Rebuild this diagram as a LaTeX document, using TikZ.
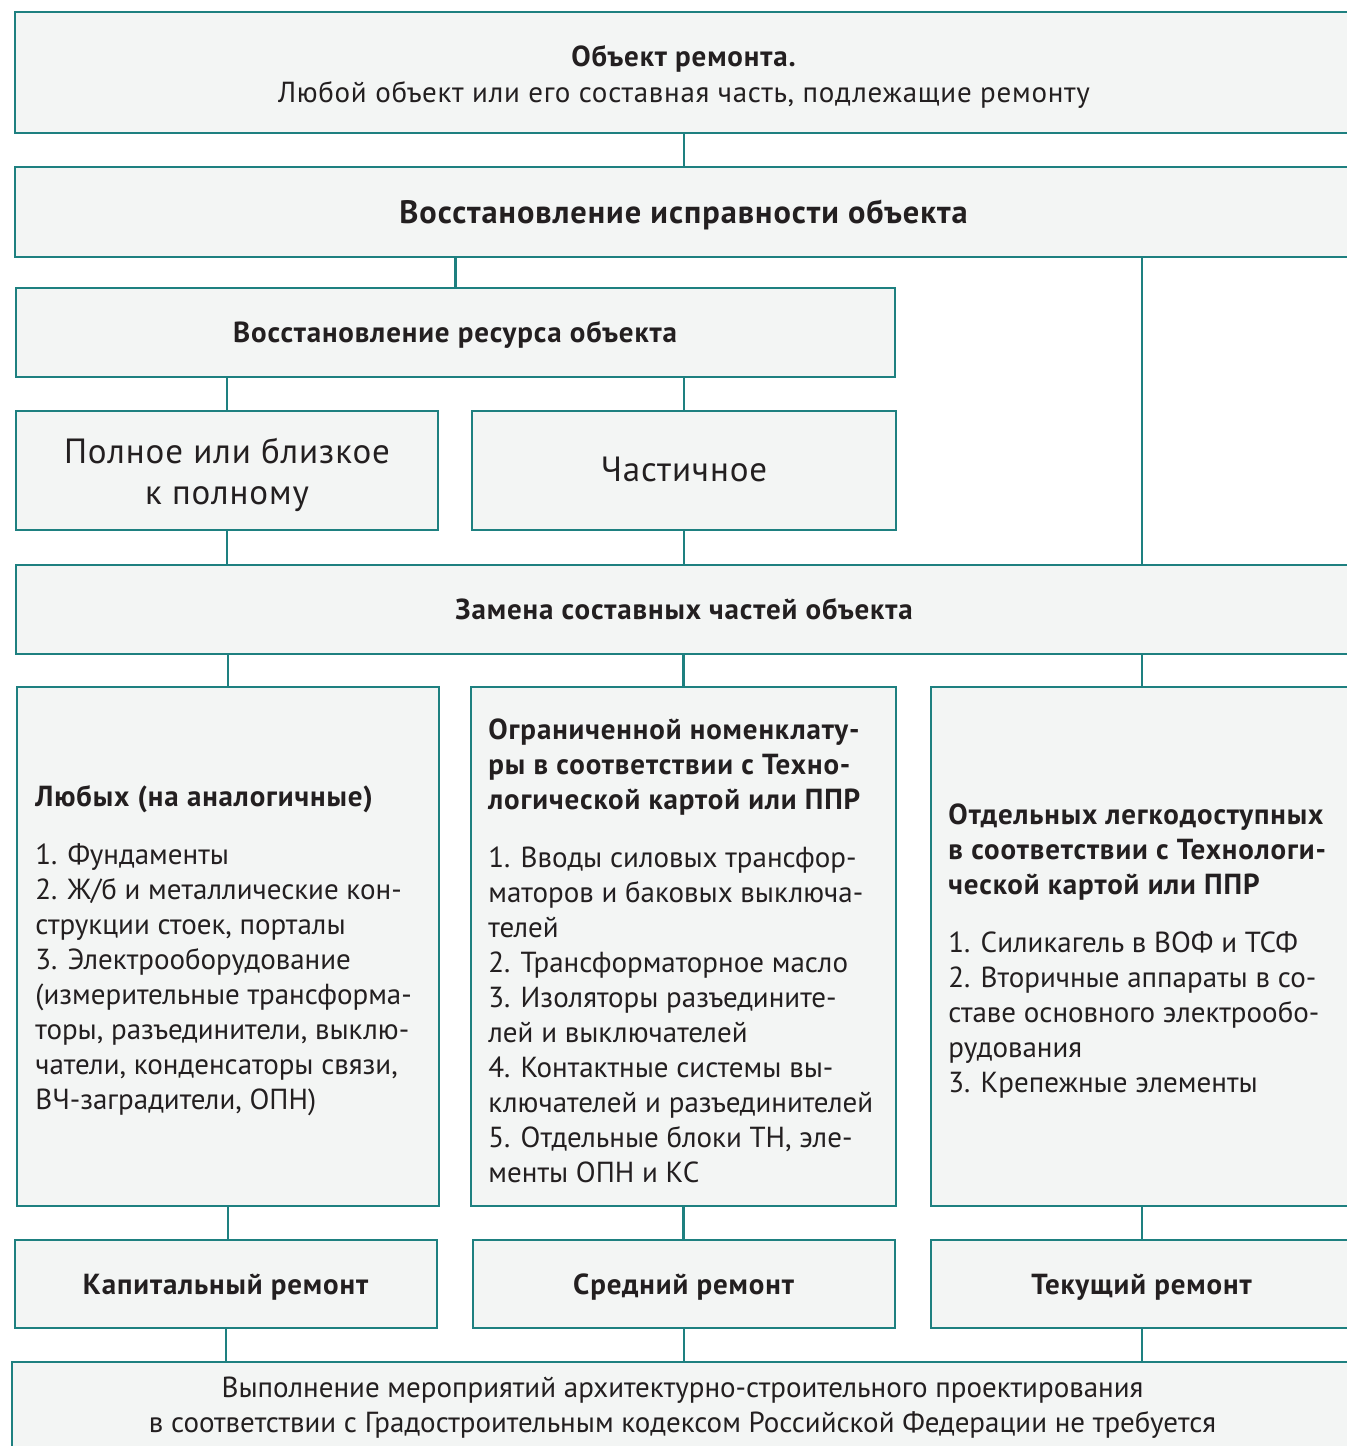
\documentclass[tikz,border=0pt]{standalone}
\usepackage{fontspec}
\setmainfont{PT Sans}[BoldFeatures={LetterSpace=3}]
\newfontfamily\spacedfont{PT Sans}[LetterSpace=2.5]
\definecolor{teal1}{HTML}{1E8080}
\definecolor{boxfill}{HTML}{F3F5F4}
\definecolor{ink}{HTML}{231F20}
\tikzset{
 box/.style={draw=teal1, fill=boxfill, line width=1.25pt, rectangle, inner sep=0pt, align=center, text=ink, font=\fontsize{14.5}{17.5}\selectfont},
 oneline/.style={text height=12.4pt, text depth=2pt},
 bigbox/.style={box, font=\spacedfont\fontsize{17.5}{20.5}\selectfont},
 conn/.style={draw=teal1, line width=1.25pt},
 listtext/.style={anchor=west, align=left, text=ink, inner sep=0pt, font=\fontsize{14.5}{17.5}\selectfont},
}
\begin{document}
\begin{tikzpicture}[x=0.5pt,y=-0.5pt]
\useasboundingbox (0,0) rectangle (1347,1446);
\clip (0,0) rectangle (1347,1446);
\fill[white] (0,0) rectangle (1347,1446);

\node[box, minimum width=669pt, minimum height=60.5pt] (b1) at (684,72.5) {\rule{0pt}{15pt}\textbf{Объект ремонта.}\\[0.5pt]{\spacedfont Любой объект или его составная часть, подлежащие ремонту}};
\node[box, oneline, text height=13.2pt, minimum width=669pt, minimum height=45pt, font=\fontsize{16.2}{19}\selectfont] (b2) at (684,212) {\textbf{Восстановление исправности объекта}};
\node[box, oneline, minimum width=439.5pt, minimum height=44.5pt] (b3) at (455.5,332.5) {\textbf{Восстановление ресурса объекта}};
\node[bigbox, minimum width=211pt, minimum height=59.5pt] (b4) at (227,470.5) {\rule{0pt}{17pt}Полное или близкое\\к полному};
\node[bigbox, text height=13.8pt, text depth=3pt, minimum width=212pt, minimum height=59.5pt] (b5) at (684,470.5) {Частичное};
\node[box, oneline, minimum width=668.5pt, minimum height=44.5pt] (b6) at (684.5,609.5) {\textbf{Замена составных частей объекта}};
\node[box, minimum width=211pt, minimum height=259.5pt] (b7) at (228,946.5) {};
\node[box, minimum width=212.5pt, minimum height=259.5pt] (b8) at (683.5,946.5) {};
\node[box, minimum width=211pt, minimum height=259.5pt] (b9) at (1142,946.5) {};
\node[box, oneline, minimum width=211pt, minimum height=44pt] (b10) at (226,1284) {\textbf{Капитальный ремонт}};
\node[box, oneline, minimum width=211pt, minimum height=44pt] (b11) at (684,1284) {\textbf{Средний ремонт}};
\node[box, oneline, minimum width=211pt, minimum height=44pt] (b12) at (1142,1284) {\textbf{Текущий ремонт}};
\node[box, minimum width=670.5pt, minimum height=46pt] (b13) at (682.5,1408) {Выполнение мероприятий архитектурно-строительного проектирования\\в соответствии с Градостроительным кодексом Российской Федерации не требуется};

\node[listtext] (t7) at (35,950.5) {\textbf{Любых (на аналогичные)}\\[11.5pt]
1. Фундаменты\\
2. Ж/б и металлические кон-\\
струкции стоек, порталы\\
3. Электрооборудование\\
(измерительные трансформа-\\
торы, разъединители, выклю-\\
чатели, конденсаторы связи,\\
ВЧ-заградители, ОПН)};
\node[listtext] (t8) at (488,950.5) {\textbf{Ограниченной номенклату-}\\
\textbf{ры в соответствии с Техно-}\\
\textbf{логической картой или ППР}\\[11.5pt]
1. Вводы силовых трансфор-\\
маторов и баковых выключа-\\
телей\\
2. Трансформаторное масло\\
3. Изоляторы разъедините-\\
лей и выключателей\\
4. Контактные системы вы-\\
ключателей и разъединителей\\
5. Отдельные блоки ТН, эле-\\
менты ОПН и КС};
\node[listtext] (t9) at (948,951.5) {\textbf{Отдельных легкодоступных}\\
\textbf{в соответствии с Технологи-}\\
\textbf{ческой картой или ППР}\\[11.5pt]
1. Силикагель в ВОФ и ТСФ\\
2. Вторичные аппараты в со-\\
ставе основного электрообо-\\
рудования\\
3. Крепежные элементы};

\draw[conn] (b1.south) -- (b2.north);
\draw[conn] (b3.north) -- (b3.north |- b2.south);
\draw[conn] (b2.south -| b9) -- (b6.north -| b9);
\draw[conn] (b4.north) -- (b4.north |- b3.south);
\draw[conn] (b5.north) -- (b5.north |- b3.south);
\draw[conn] (b4.south) -- (b4.south |- b6.north);
\draw[conn] (b5.south) -- (b5.south |- b6.north);
\draw[conn] (b7.north) -- (b7.north |- b6.south);
\draw[conn] (b8.north) -- (b8.north |- b6.south);
\draw[conn] (b9.north) -- (b9.north |- b6.south);
\draw[conn] (b7.south) -- (b10.north -| b7.south);
\draw[conn] (b8.south) -- (b11.north -| b8.south);
\draw[conn] (b9.south) -- (b12.north -| b9.south);
\draw[conn] (b10.south) -- (b10.south |- b13.north);
\draw[conn] (b11.south) -- (b11.south |- b13.north);
\draw[conn] (b12.south) -- (b12.south |- b13.north);
\end{tikzpicture}
\end{document}
